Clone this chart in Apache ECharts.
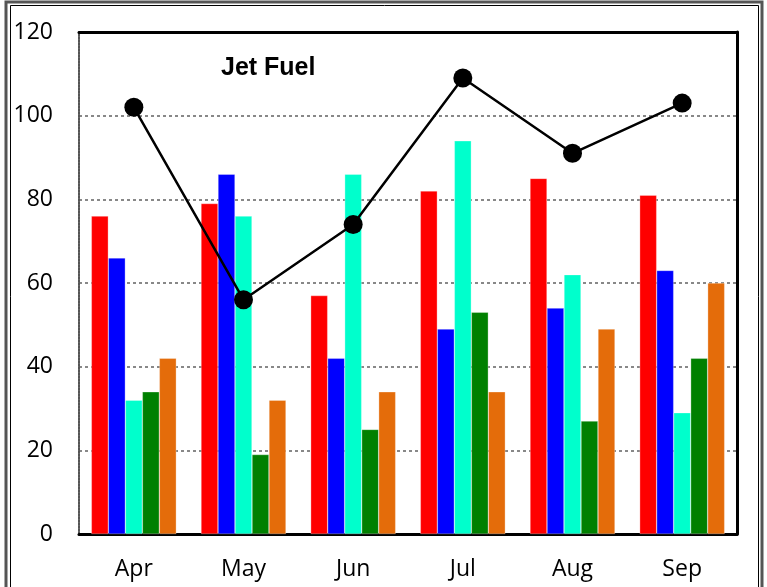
<!DOCTYPE html>
<html>
<head>
<meta charset="utf-8">
<script src="https://cdn.jsdelivr.net/npm/echarts@6/dist/echarts.min.js"></script>
<style>
  html, body { margin: 0; padding: 0; background: #fff; }
  #chart { width: 767px; height: 587px; }
</style>
</head>
<body>
<div id="chart"></div>
<script>
// Monthly values
const months = ['Apr', 'May', 'Jun', 'Jul', 'Aug', 'Sep'];
const redSeries    = [76, 79, 57, 82, 85, 81];
const blueSeries   = [66, 86, 42, 49, 54, 63];
const cyanSeries   = [32, 76, 86, 94, 62, 29];
const greenSeries  = [34, 19, 25, 53, 27, 42];
const orangeSeries = [42, 32, 34, 34, 49, 60];
const jetFuel      = [102, 56, 74, 109, 91, 103];
const yTicks = [0, 20, 40, 60, 80, 100, 120];

const chart = echarts.init(document.getElementById('chart'), null, { renderer: 'canvas' });

const barColors = ['#ff0000', '#0000ff', '#00ffcc', '#008000', '#e46c0a'];
const barData = [redSeries, blueSeries, cyanSeries, greenSeries, orangeSeries];

const bars = barData.map((d, i) => ({
  type: 'bar',
  data: d,
  barGap: '0%',
  barCategoryGap: '22.5%',
  itemStyle: { color: barColors[i], borderColor: 'rgba(255,255,255,0.6)', borderWidth: 0.5 },
  z: 2
}));

chart.setOption({
  animation: false,
  backgroundColor: '#fff',
  title: {
    text: 'Jet Fuel',
    left: 216, top: 51,
    textStyle: { fontFamily: 'Liberation Sans', fontWeight: 'bold', fontSize: 25, color: '#000' }
  },
  grid: { left: 79, right: 30, top: 32, bottom: 53, containLabel: false },
  xAxis: [
    {
      type: 'category',
      data: months,
      axisLine: { lineStyle: { color: '#000', width: 3 } },
      axisTick: { show: false },
      axisLabel: { fontFamily: 'Open Sans', fontSize: 23, color: '#000', margin: 24 }
    },
    {
      type: 'category',
      position: 'top',
      data: months,
      z: 10,
      axisLine: { show: true, onZero: false, lineStyle: { color: '#000', width: 3 } },
      axisTick: { show: false },
      axisLabel: { show: false }
    }
  ],
  yAxis: [
    {
      type: 'value',
      min: 0, max: 120, interval: 20,
      axisLine: { show: true, lineStyle: { color: '#555', width: 2, type: [2, 1] } },
      axisTick: { show: false },
      splitLine: { showMinLine: false, showMaxLine: false, lineStyle: { color: '#888', width: 2, type: [3, 3] } },
      axisLabel: {
        fontFamily: 'Open Sans', fontSize: 23, color: '#000', margin: 26,
        formatter: v => (yTicks.includes(v) ? String(v) : '')
      }
    },
    {
      type: 'value',
      position: 'right',
      min: 0, max: 120, interval: 20,
      z: 10,
      axisLine: { show: true, onZero: false, lineStyle: { color: '#000', width: 3 } },
      axisTick: { show: false },
      splitLine: { show: false },
      axisLabel: { show: false }
    }
  ],
  series: [
    ...bars,
    {
      type: 'line',
      data: jetFuel,
      symbol: 'circle',
      symbolSize: 19,
      lineStyle: { color: '#000', width: 2.5 },
      itemStyle: { color: '#000' },
      z: 5
    }
  ],
  graphic: [
    {
      type: 'rect',
      shape: { x: 6, y: 2, width: 756, height: 590 },
      style: { fill: 'none', stroke: '#555', lineWidth: 3 },
      silent: true
    },
    {
      type: 'rect',
      shape: { x: 10.5, y: 5.5, width: 748, height: 590 },
      style: { fill: 'none', stroke: '#000', lineWidth: 1 },
      silent: true
    }
  ]
});
</script>
</body>
</html>
